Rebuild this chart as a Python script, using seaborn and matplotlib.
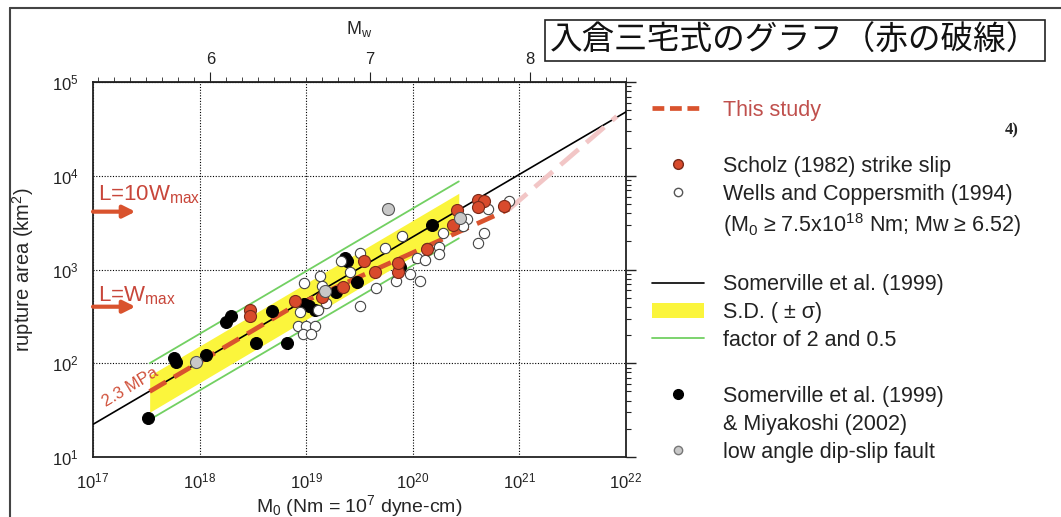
import numpy as np
import pandas as pd
import matplotlib
matplotlib.use("Agg")
import matplotlib.pyplot as plt
import seaborn as sns
from matplotlib.lines import Line2D
from matplotlib.patches import Patch, Rectangle
from matplotlib.ticker import LogLocator, MultipleLocator, NullFormatter

# values: seismic moment M0 (Nm) and rupture area (km^2)
black_m0 = [3.3e17, 5.7e17, 6.0e17, 1.15e18, 1.78e18, 1.95e18, 3.4e18, 4.8e18, 6.6e18,
            9.6e18, 1.07e19, 1.2e19, 1.9e19, 2.3e19, 2.4e19, 3.0e19, 7.6e19, 1.5e20]
black_area = [26, 115, 102, 122, 275, 317, 166, 363, 166,
              427, 405, 373, 570, 1320, 1230, 740, 1070, 3000]

red_m0 = [2.95e18, 2.95e18, 7.8e18, 1.4e19, 2.2e19, 3.5e19, 4.4e19, 7.3e19, 7.3e19,
          1.37e20, 2.6e20, 2.4e20, 4.1e20, 4.7e20, 4.1e20, 7.2e20]
red_area = [370, 316, 457, 515, 645, 1230, 935, 935, 1180,
            1660, 4300, 3000, 5500, 5400, 4650, 4800]

grey_m0 = [9.3e17, 1.5e19, 5.8e19, 2.75e20]
grey_area = [102, 585, 4450, 3550]

white_m0 = [9.5e18, 1.35e19, 1.4e19, 3.2e19, 2.6e19, 2.1e19, 5.5e19, 7.9e19, 4.5e19, 3.2e19,
            8.7e18, 1.28e19, 1.55e19, 8.3e18, 1.0e19, 1.2e19, 9.3e18, 1.12e19, 6.9e19, 9.5e19,
            1.18e20, 1.1e20, 1.3e20, 1.9e20, 3.2e20, 5.1e20, 8.0e20, 4.7e20, 4.1e20, 1.78e20,
            1.78e20, 1.37e20, 2.95e20]
white_area = [725, 850, 660, 1510, 935, 1230, 1700, 2300, 630, 405,
              350, 373, 435, 247, 247, 247, 203, 203, 760, 890,
              745, 1320, 1250, 2450, 3450, 4450, 5400, 2450, 1900, 1740,
              1480, 1700, 2900]

# reference lines (end points)
somerville_m0 = [1e17, 1e22]
somerville_area = [22.3, 48000]
band_m0 = [3.4e17, 2.7e20]
band_hi = [74, 6500]
band_lo = [30, 2700]
factor_hi = [100, 8700]
factor_lo = [25, 2150]
study_m0 = [3.4e17, 7.5e18, 8.0e20]
study_area = [50, 400, 4400]
extra_m0 = [8.0e20, 8.2e21]
extra_area = [4400, 43000]
mw_ticks = [6, 7, 8]

RED = '#d9532e'
YELLOW = '#fbf53c'
GREEN = '#72d062'

sns.set_style("white")
plt.rcParams['font.family'] = ['Liberation Sans', 'Noto Sans CJK JP', 'DejaVu Sans']
plt.rcParams['mathtext.fontset'] = 'custom'
plt.rcParams['mathtext.rm'] = 'Liberation Sans'
plt.rcParams['mathtext.it'] = 'Liberation Sans:italic'

W, H = 1061, 517
fig = plt.figure(figsize=(W / 100, H / 100), dpi=100)
ax = fig.add_axes([93 / W, 1 - 457 / H, 533 / W, 375 / H])
ax.set_xscale('log')
ax.set_yscale('log')

ax.fill_between(band_m0, band_lo, band_hi, color=YELLOW, lw=0, zorder=1)
sns.lineplot(x=band_m0, y=factor_hi, ax=ax, color=GREEN, lw=1.3, zorder=2)
sns.lineplot(x=band_m0, y=factor_lo, ax=ax, color=GREEN, lw=1.3, zorder=2)
sns.lineplot(x=somerville_m0, y=somerville_area, ax=ax, color='black', lw=1.2, zorder=3)
ax.plot(extra_m0, extra_area, color='#f2c6c6', lw=3.4, dashes=(5, 2.2), zorder=3)
ax.plot(study_m0, study_area, color=RED, lw=3.4, dashes=(4, 2), zorder=4)

sns.scatterplot(x=black_m0, y=black_area, ax=ax, s=75, color='black', edgecolor='black', zorder=5)
sns.scatterplot(x=white_m0, y=white_area, ax=ax, s=55, color='white', edgecolor='#444444',
                linewidth=0.8, zorder=5)
sns.scatterplot(x=red_m0, y=red_area, ax=ax, s=75, color='#d84a2c', edgecolor='#7a2a1a',
                linewidth=0.8, zorder=6)
sns.scatterplot(x=grey_m0, y=grey_area, ax=ax, s=75, color='#c8c8c8', edgecolor='#555555',
                linewidth=0.8, zorder=6)

ax.set_xlim(1e17, 1e22)
ax.set_ylim(10, 1e5)
for a in (ax.xaxis, ax.yaxis):
    a.set_major_locator(LogLocator(base=10, numticks=10))
    a.set_minor_locator(LogLocator(base=10, subs=np.arange(2, 10), numticks=100))
    a.set_minor_formatter(NullFormatter())
ax.tick_params(which='both', direction='out', right=True, labelsize=12, colors='#222222')
ax.tick_params(which='major', length=7, width=1)
ax.tick_params(which='minor', length=3.5, width=0.8)
ax.grid(True, which='major', color='black', ls=(0, (1, 1.5)), lw=0.8)
for s in ax.spines.values():
    s.set_linewidth(1.3)
    s.set_color('#222222')

ax.set_xlabel('M$_0$ (Nm = 10$^7$ dyne-cm)', fontsize=14, labelpad=1)
ax.set_ylabel('rupture area (km$^2$)', fontsize=14.5, labelpad=11)


def m0_to_mw(m0):
    return (np.log10(np.maximum(m0, 1e-30)) - 9.1) / 1.5


def mw_to_m0(mw):
    return 10 ** (1.5 * np.asarray(mw) + 9.1)


sec = ax.secondary_xaxis('top', functions=(m0_to_mw, mw_to_m0))
sec.set_xticks(mw_ticks, labels=[str(m) for m in mw_ticks])
sec.xaxis.set_minor_locator(MultipleLocator(0.1))
sec.xaxis.set_minor_formatter(NullFormatter())
sec.tick_params(which='major', length=7, direction='out', labelsize=12, colors='#222222')
sec.tick_params(which='minor', length=3.5, direction='out')
sec.set_xlabel('M$_\\mathrm{w}$', fontsize=13, labelpad=13)

# annotations inside the plot
ax.text(2.24e17, 56, '2.3 MPa', color='#d0503a', fontsize=12, rotation=31,
        ha='center', va='center', zorder=7)
ax.text(1.12e17, 5500, 'L=10W$_\\mathrm{max}$', color='#c8463a', fontsize=16, va='baseline')
ax.text(1.12e17, 461, 'L=W$_\\mathrm{max}$', color='#c8463a', fontsize=16, va='baseline')
for ya in (4140, 401):
    ax.annotate('', xy=(2.5e17, ya), xytext=(1e17, ya),
                arrowprops=dict(arrowstyle='-|>', color='#d9532e', lw=3, mutation_scale=18,
                                shrinkA=0, shrinkB=0))

# legend
blank = Line2D([], [], ls='none')
handles = [
    Line2D([], [], color=RED, lw=3.4, dashes=(2.5, 1.2)),
    blank,
    Line2D([], [], ls='none', marker='o', ms=7, mfc='#d84a2c', mec='#7a2a1a'),
    Line2D([], [], ls='none', marker='o', ms=6, mfc='white', mec='#555555'),
    blank,
    blank,
    Line2D([], [], color='black', lw=1.2),
    Patch(facecolor=YELLOW, edgecolor='none'),
    Line2D([], [], color=GREEN, lw=1.3),
    blank,
    Line2D([], [], ls='none', marker='o', ms=7, mfc='black', mec='black'),
    blank,
    Line2D([], [], ls='none', marker='o', ms=6, mfc='#c8c8c8', mec='#777777'),
]
labels = [
    'This study', ' ', 'Scholz (1982) strike slip', 'Wells and Coppersmith (1994)',
    '(M$_0$ ≥ 7.5x10$^{18}$ Nm; Mw ≥ 6.52)', ' ', 'Somerville et al. (1999)',
    'S.D. ( ± σ)', 'factor of 2 and 0.5', ' ', 'Somerville et al. (1999)',
    '& Miyakoshi (2002)', 'low angle dip-slip fault',
]
colors = ['#c0504d'] + ['#222222'] * 12
fig.legend(handles, labels, loc='upper left', bbox_to_anchor=(652 / W, 1 - 100 / H),
           frameon=False, fontsize=15.5, labelspacing=0.32, handlelength=2.4,
           handletextpad=0.9, borderpad=0, borderaxespad=0, labelcolor=colors)

# title box and page decorations
fig.add_artist(Rectangle((545 / W, 1 - 61 / H), 500 / W, 41 / H, transform=fig.transFigure,
                         fill=False, edgecolor='#222222', lw=1.2))
fig.text(795 / W, 1 - 41 / H, '入倉三宅式のグラフ（赤の破線）', fontsize=23.5,
         family=['Noto Sans CJK JP'], ha='center', va='center', color='#111111')
fig.text(1012 / W, 1 - 130 / H, '4)', fontsize=12, family=['Liberation Serif'],
         weight='bold', ha='center', va='center')
fig.add_artist(Line2D([10 / W, 10 / W], [0, 1 - 8 / H], transform=fig.transFigure,
                      color='#444444', lw=1.5))
fig.add_artist(Line2D([10 / W, 1], [1 - 8 / H, 1 - 8 / H], transform=fig.transFigure,
                      color='#444444', lw=1.5))

fig.savefig('out.png', dpi=100, facecolor='white')
